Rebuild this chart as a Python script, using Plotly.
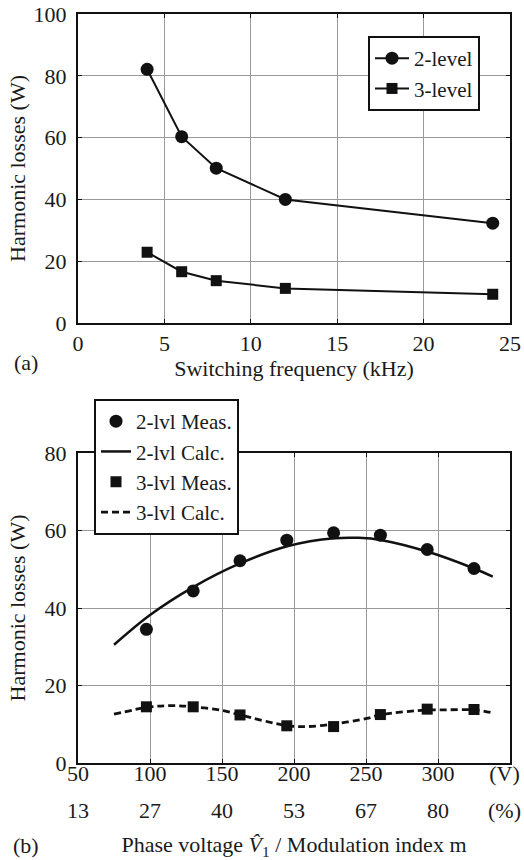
import plotly.graph_objects as go

# ---------------- Data ----------------
# Panel (a): harmonic losses vs switching frequency
freq_khz = [4, 6, 8, 12, 24]
loss_2level = [82.1, 60.3, 50.1, 40.0, 32.3]
loss_3level = [22.9, 16.6, 13.7, 11.2, 9.3]

# Panel (b): harmonic losses vs phase voltage
volt_meas = [97.5, 130, 162.5, 195, 227.5, 260, 292.5, 325]
meas_2lvl = [34.5, 44.4, 52.2, 57.5, 59.4, 58.8, 55.1, 50.2]
meas_3lvl = [14.5, 14.5, 12.4, 9.6, 9.4, 12.5, 13.9, 13.8]

volt_calc2 = [75, 100, 130, 162.5, 196, 228, 245, 261, 293, 325, 338]
calc_2lvl = [30.5, 38.2, 45.4, 51.5, 56.0, 58.0, 58.1, 57.5, 54.5, 50.2, 48.1]
volt_calc3 = [75, 99, 114, 130, 151, 162.5, 196, 209, 228.5, 250.5, 261, 293, 301, 326, 337]
calc_3lvl = [12.6, 14.4, 14.8, 14.5, 13.5, 12.4, 9.6, 9.4, 10.1, 11.5, 12.5, 13.7, 13.7, 13.7, 13.0]

volt_tickvals = [50, 100, 150, 200, 250, 300, 350]
volt_ticktext = ["50", "100", "150", "200", "250", "300", "(V)\u2002"]
mod_ticktext = ["13", "27", "40", "53", "67", "80", "(%)\u2002"]

# ---------------- Style ----------------
W, H = 524, 860
FONT = "Liberation Serif, Times New Roman, DejaVu Serif, serif"
TXT = "#1a1a1a"
LINE = "#111111"
GRID = "#9a9a9a"
FS = 22
LFS = 21

def px_x(p):
    return p / W

def px_y(p):
    return 1 - p / H

fig = go.Figure()

# Panel (a)
fig.add_trace(go.Scatter(
    x=freq_khz, y=loss_2level, name="2-level", mode="lines+markers",
    line=dict(color=LINE, width=2), marker=dict(symbol="circle", size=13, color=LINE),
    xaxis="x", yaxis="y", legend="legend", cliponaxis=False))
fig.add_trace(go.Scatter(
    x=freq_khz, y=loss_3level, name="3-level", mode="lines+markers",
    line=dict(color=LINE, width=2), marker=dict(symbol="square", size=11, color=LINE),
    xaxis="x", yaxis="y", legend="legend", cliponaxis=False))

# Panel (b)
fig.add_trace(go.Scatter(
    x=volt_meas, y=meas_2lvl, name="2-lvl Meas.", mode="markers",
    marker=dict(symbol="circle", size=13, color=LINE),
    xaxis="x2", yaxis="y2", legend="legend2"))
fig.add_trace(go.Scatter(
    x=volt_calc2, y=calc_2lvl, name="2-lvl Calc.", mode="lines",
    line=dict(color=LINE, width=2.5, shape="spline", smoothing=1.0),
    xaxis="x2", yaxis="y2", legend="legend2"))
fig.add_trace(go.Scatter(
    x=volt_meas, y=meas_3lvl, name="3-lvl Meas.", mode="markers",
    marker=dict(symbol="square", size=11, color=LINE),
    xaxis="x2", yaxis="y2", legend="legend2"))
fig.add_trace(go.Scatter(
    x=volt_calc3, y=calc_3lvl, name="3-lvl Calc.", mode="lines",
    line=dict(color=LINE, width=2.8, dash="7px,4px", shape="spline", smoothing=1.0),
    xaxis="x2", yaxis="y2", legend="legend2"))
# invisible helper trace so the modulation-index axis is drawn
fig.add_trace(go.Scatter(
    x=volt_meas, y=meas_3lvl, mode="markers", opacity=0, showlegend=False,
    hoverinfo="skip", xaxis="x3", yaxis="y2"))

xdom = [px_x(78), px_x(510)]
axis_common = dict(
    automargin=False, ticklabeloverflow="allow",
    showgrid=True, gridcolor=GRID, gridwidth=1,
    showline=True, mirror="ticks", linecolor=LINE, linewidth=2,
    zeroline=False, ticks="inside", ticklen=4, tickwidth=1, tickcolor=LINE,
    tickfont=dict(family=FONT, size=FS, color=TXT),
    title_font=dict(family=FONT, size=FS, color=TXT),
)

fig.update_layout(
    width=W, height=H,
    margin=dict(l=0, r=0, t=0, b=0),
    paper_bgcolor="white", plot_bgcolor="white",
    font=dict(family=FONT, size=FS, color=TXT),
    xaxis=dict(domain=xdom, range=[0, 25], tick0=0, dtick=5, anchor="y",
               title=dict(text="Switching frequency (kHz)", standoff=2), **axis_common),
    yaxis=dict(domain=[px_y(323), px_y(14)], range=[0, 100], tick0=0, dtick=20, anchor="x",
               ticklabelstandoff=5,
               title=dict(text="Harmonic losses (W)", standoff=2), **axis_common),
    xaxis2=dict(domain=xdom, range=[50, 350], tickvals=volt_tickvals, ticktext=volt_ticktext,
                anchor="y2", ticklabelstandoff=-10, **axis_common),
    yaxis2=dict(domain=[px_y(763), px_y(453)], range=[0, 80], tick0=0, dtick=20, anchor="x2",
                ticklabelstandoff=5,
                title=dict(text="Harmonic losses (W)", standoff=13), **axis_common),
    xaxis3=dict(overlaying="x2", anchor="free", position=px_y(795), range=[50, 350],
                automargin=False, ticklabeloverflow="allow",
                tickvals=volt_tickvals, ticktext=mod_ticktext, showgrid=False, showline=False,
                zeroline=False, ticks="", tickfont=dict(family=FONT, size=FS, color=TXT),
                title=dict(text="Phase voltage <i>V\u0302</i><sub>1</sub> / Modulation index m",
                           font=dict(family=FONT, size=FS, color=TXT), standoff=26)),
    legend=dict(x=px_x(368), y=px_y(36), xanchor="left", yanchor="top",
                bgcolor="white", bordercolor=LINE, borderwidth=2,
                font=dict(family=FONT, size=LFS, color=TXT), itemwidth=34),
    legend2=dict(x=px_x(94), y=px_y(399), xanchor="left", yanchor="top",
                 bgcolor="white", bordercolor=LINE, borderwidth=2,
                 font=dict(family=FONT, size=LFS, color=TXT), itemwidth=30),
    showlegend=True,
    annotations=[
        dict(text="(a)", x=px_x(26), y=px_y(362), xref="paper", yref="paper",
             xanchor="center", yanchor="middle",
             showarrow=False, font=dict(family=FONT, size=FS, color=TXT)),
        dict(text="(b)", x=px_x(26), y=px_y(845), xref="paper", yref="paper",
             xanchor="center", yanchor="middle",
             showarrow=False, font=dict(family=FONT, size=FS, color=TXT)),
    ],
)

fig.write_html("out.html")
